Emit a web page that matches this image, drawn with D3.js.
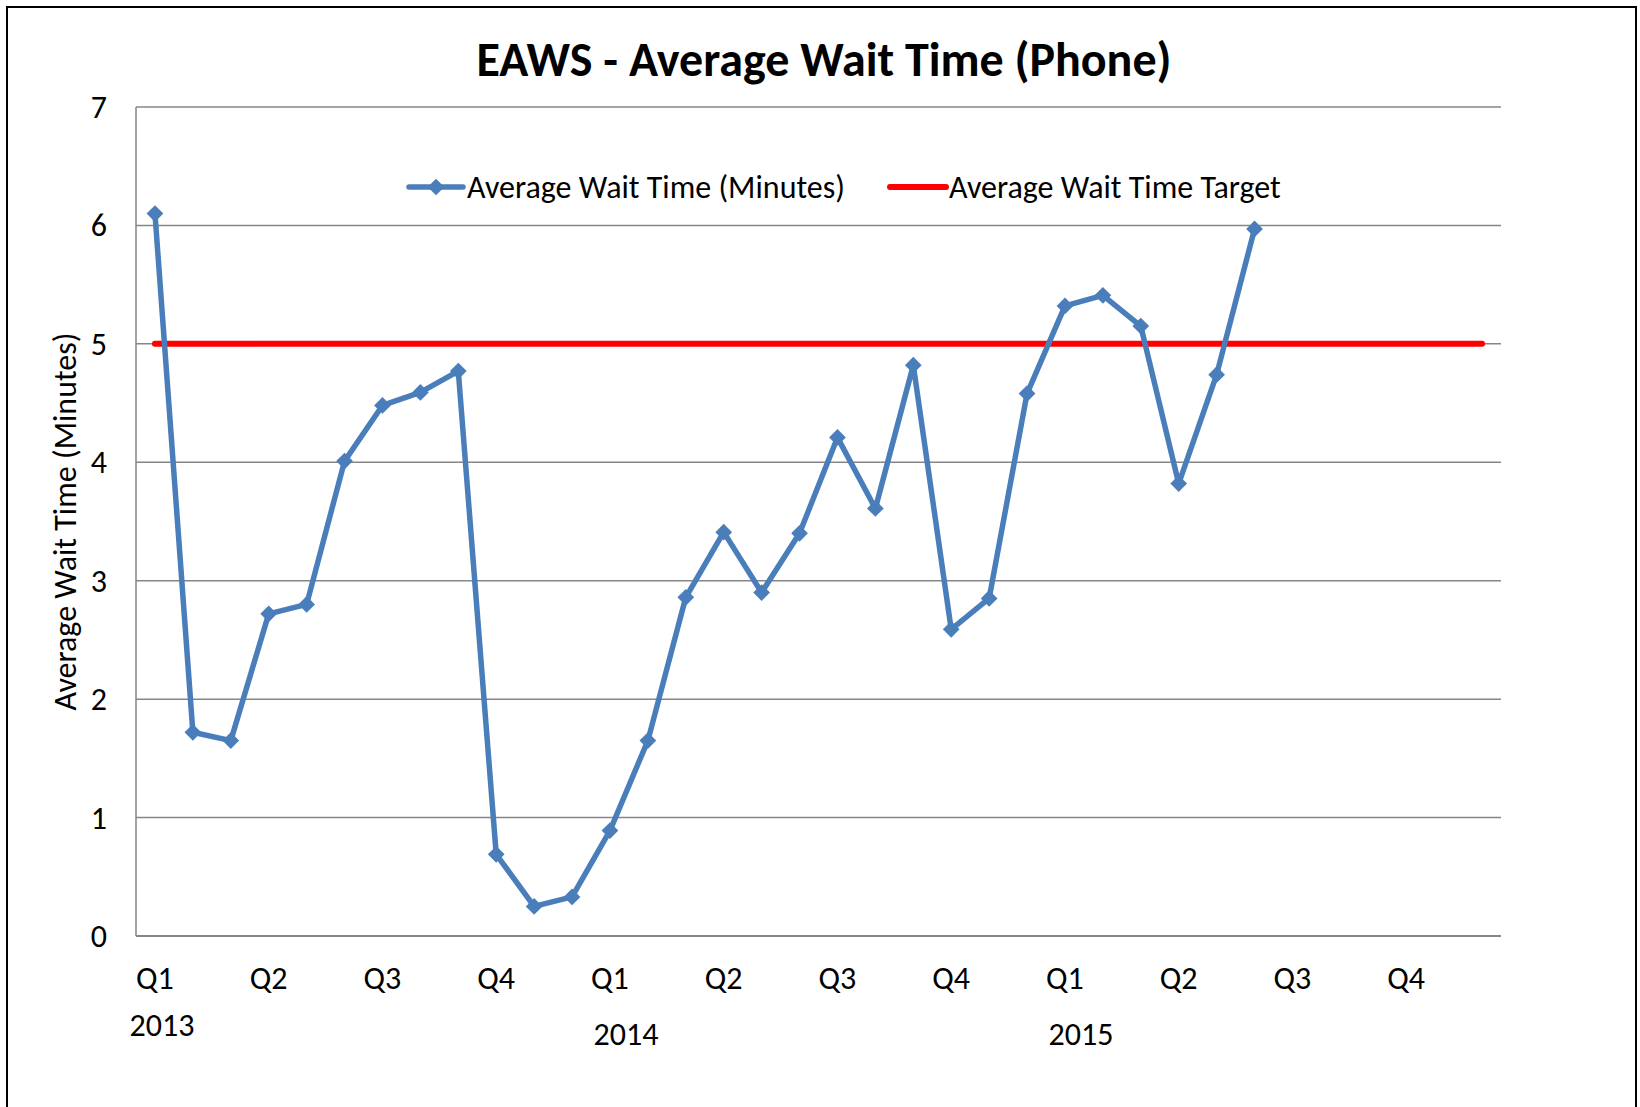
<!DOCTYPE html>
<html>
<head>
<meta charset="utf-8">
<script src="https://cdn.jsdelivr.net/npm/d3@7"></script>
<style>
  body { margin: 0; background: #fff; }
  svg text { font-family: Carlito, Lato, "Open Sans", sans-serif; fill: #000; }
</style>
</head>
<body>
<svg id="chart"></svg>
<script>
// months Jan 2013 .. Dec 2015 (36 slots), only the first 30 have data
var months = ["2013-01","2013-02","2013-03","2013-04","2013-05","2013-06","2013-07","2013-08","2013-09","2013-10","2013-11","2013-12",
              "2014-01","2014-02","2014-03","2014-04","2014-05","2014-06","2014-07","2014-08","2014-09","2014-10","2014-11","2014-12",
              "2015-01","2015-02","2015-03","2015-04","2015-05","2015-06","2015-07","2015-08","2015-09","2015-10","2015-11","2015-12"];
var quarterLabels = ["Q1","","","Q2","","","Q3","","","Q4","","",
                     "Q1","","","Q2","","","Q3","","","Q4","","",
                     "Q1","","","Q2","","","Q3","","","Q4","",""];
var yearLabels = [{year: "2013", month: "2013-01"}, {year: "2014", month: "2014-01"}, {year: "2015", month: "2015-01"}];
var waitTimes = [6.10, 1.72, 1.65, 2.72, 2.80, 4.01, 4.48, 4.59, 4.77, 0.69, 0.25, 0.33,
                 0.89, 1.65, 2.86, 3.41, 2.90, 3.40, 4.21, 3.61, 4.82, 2.59, 2.85, 4.58,
                 5.32, 5.41, 5.15, 3.82, 4.74, 5.97];
var targets = [5,5,5,5,5,5,5,5,5,5,5,5, 5,5,5,5,5,5,5,5,5,5,5,5, 5,5,5,5,5,5,5,5,5,5,5,5];
var yTicks = [0, 1, 2, 3, 4, 5, 6, 7];

var W = 1640, H = 1107;
var margin = {top: 107, right: 139, bottom: 171, left: 136};
var fs = "32px";

var svg = d3.select("#chart").attr("width", W).attr("height", H);

svg.append("rect").attr("x", 0).attr("y", 0).attr("width", W).attr("height", H).attr("fill", "#fff");
// outer chart border (runs past the bottom edge like the original)
svg.append("rect")
    .attr("x", 7).attr("y", 7)
    .attr("width", 1629).attr("height", 1120)
    .attr("fill", "none").attr("stroke", "#000").attr("stroke-width", 2);

var x = d3.scaleBand()
    .domain(months)
    .range([margin.left, W - margin.right]);

var y = d3.scaleLinear()
    .domain([0, 7])
    .range([H - margin.bottom, margin.top]);

var cx = function(m) { return x(m) + x.bandwidth() / 2; };

// gridlines
svg.append("g")
    .selectAll("line")
    .data(yTicks.filter(function(d) { return d > 0; }))
    .enter().append("line")
    .attr("x1", margin.left).attr("x2", W - margin.right)
    .attr("y1", function(d) { return y(d); }).attr("y2", function(d) { return y(d); })
    .attr("stroke", "#868686").attr("stroke-width", 1.5);

// axis lines
svg.append("line")
    .attr("x1", margin.left).attr("x2", margin.left)
    .attr("y1", y(7)).attr("y2", y(0))
    .attr("stroke", "#868686").attr("stroke-width", 1.5);
svg.append("line")
    .attr("x1", margin.left).attr("x2", W - margin.right)
    .attr("y1", y(0)).attr("y2", y(0))
    .attr("stroke", "#868686").attr("stroke-width", 2);

// y tick labels
svg.append("g")
    .selectAll("text")
    .data(yTicks)
    .enter().append("text")
    .attr("x", 107)
    .attr("y", function(d) { return y(d) + 11; })
    .attr("text-anchor", "end")
    .attr("font-size", fs)
    .text(function(d) { return d; });

// x category labels
svg.append("g")
    .selectAll("text")
    .data(months.filter(function(m, i) { return quarterLabels[i] !== ""; }))
    .enter().append("text")
    .attr("x", function(m) { return cx(m); })
    .attr("y", 989)
    .attr("text-anchor", "middle")
    .attr("font-size", fs)
    .text(function(m) { return quarterLabels[months.indexOf(m)]; });

svg.append("g")
    .selectAll("text")
    .data(yearLabels)
    .enter().append("text")
    .attr("x", function(d, i) { return cx(d.month) + (i === 0 ? 7 : 16); })
    .attr("y", function(d, i) { return i === 0 ? 1036 : 1045; })
    .attr("text-anchor", "middle")
    .attr("font-size", fs)
    .text(function(d) { return d.year; });

// y axis title
svg.append("text")
    .attr("transform", "translate(76," + y(3.5) + ") rotate(-90)")
    .attr("text-anchor", "middle")
    .attr("font-size", fs)
    .text("Average Wait Time (Minutes)");

// title
svg.append("text")
    .attr("x", 824).attr("y", 76)
    .attr("text-anchor", "middle")
    .attr("font-size", "48px")
    .attr("font-weight", "bold")
    .text("EAWS - Average Wait Time (Phone)");

// target line
var line = d3.line()
    .x(function(d, i) { return cx(months[i]); })
    .y(function(d) { return y(d); });

svg.append("path")
    .datum(targets)
    .attr("d", line)
    .attr("fill", "none")
    .attr("stroke", "#ff0000")
    .attr("stroke-width", 6)
    .attr("stroke-linecap", "round");

// wait time series
var blue = "#4a7ebb";
svg.append("path")
    .datum(waitTimes)
    .attr("d", line)
    .attr("fill", "none")
    .attr("stroke", blue)
    .attr("stroke-width", 5.5)
    .attr("stroke-linejoin", "round");

var diamond = d3.symbol().type(d3.symbolSquare).size(140);
svg.append("g")
    .selectAll("path")
    .data(waitTimes)
    .enter().append("path")
    .attr("d", diamond)
    .attr("transform", function(d, i) {
        return "translate(" + cx(months[i]) + "," + y(d) + ") rotate(45)";
    })
    .attr("fill", blue);

// legend
var legend = svg.append("g").attr("transform", "translate(0,187)");
legend.append("line")
    .attr("x1", 409).attr("x2", 463).attr("y1", 0).attr("y2", 0)
    .attr("stroke", blue).attr("stroke-width", 5.5).attr("stroke-linecap", "round");
legend.append("path")
    .attr("d", diamond)
    .attr("transform", "translate(436,0) rotate(45)")
    .attr("fill", blue);
legend.append("text")
    .attr("x", 467).attr("y", 11)
    .attr("font-size", fs)
    .text("Average Wait Time (Minutes)");
legend.append("line")
    .attr("x1", 890).attr("x2", 946).attr("y1", 0).attr("y2", 0)
    .attr("stroke", "#ff0000").attr("stroke-width", 6).attr("stroke-linecap", "round");
legend.append("text")
    .attr("x", 949).attr("y", 11)
    .attr("font-size", fs)
    .text("Average Wait Time Target");
</script>
</body>
</html>
